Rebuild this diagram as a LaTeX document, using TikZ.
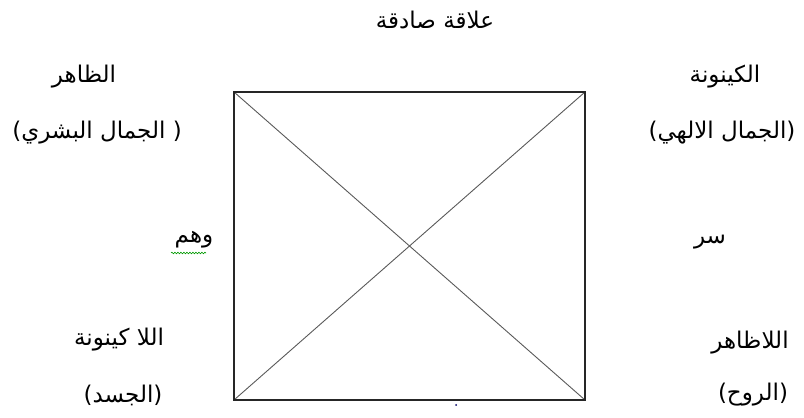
\documentclass[tikz,border=0pt]{standalone}
\usepackage{fontspec}
\newfontfamily\arabicfont[Script=Arabic]{DejaVu Sans}
\TeXXeTstate=1
\usetikzlibrary{decorations.pathmorphing}
\begin{document}
\begin{tikzpicture}[x=1pt,y=1pt,
  lbl/.style={font=\arabicfont\fontsize{23}{27}\selectfont, inner sep=0pt, anchor=center},
  frame/.style={draw=black!85, line width=1.4pt},
  diag/.style={draw=black!65, line width=0.9pt}]
\useasboundingbox (0,0) rectangle (804,418);
\coordinate (tl) at (234,326);
\coordinate (tr) at (585,326);
\coordinate (bl) at (234,18);
\coordinate (br) at (585,18);
\draw[diag] (tl) -- (br);
\draw[diag] (bl) -- (tr);
\draw[frame] (tl) rectangle (br);
\node[lbl] (top) at (435,398) {\beginR علاقة صادقة\endR};
\node[lbl] (zahir) at (84,341) {\beginR الظاهر\endR};
\node[lbl] (jamalb) at (97,285) {\beginR( الجمال البشري)\endR};
\node[lbl] (kaynuna) at (725,341) {\beginR الكينونة\endR};
\node[lbl] (jamali) at (722,285) {\beginR(الجمال الالهي)\endR};
\node[lbl] (wahm) at (194,178) {\beginR وهم\endR};
\draw[green!60!black, line width=0.6pt, decorate, decoration={snake, amplitude=0.8pt, segment length=3pt}] (171,165) -- (206,165);
\node[lbl] (sirr) at (710,176) {\beginR سر\endR};
\node[lbl] (lakay) at (119,78) {\beginR اللا كينونة\endR};
\node[lbl] (jasad) at (123,23) {\beginR(الجسد)\endR};
\node[lbl] (lazahir) at (750,75) {\beginR اللاظاهر\endR};
\node[lbl] (ruh) at (753,23) {\beginR(الروح)\endR};
\fill[blue!40!black] (456,13) circle (1pt);
\end{tikzpicture}
\end{document}
